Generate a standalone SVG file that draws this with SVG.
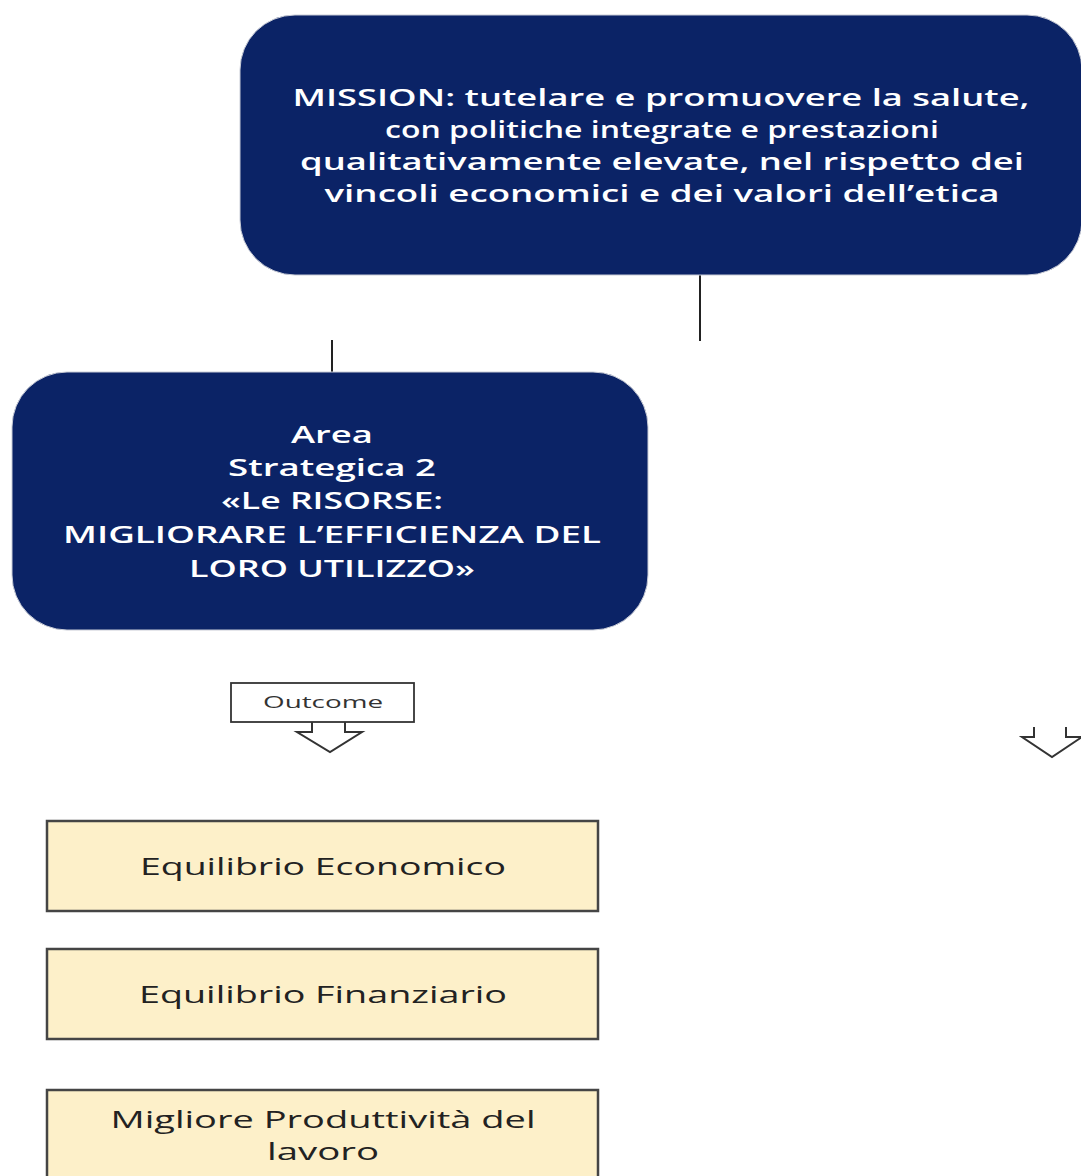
<svg xmlns="http://www.w3.org/2000/svg" width="1081" height="1176" viewBox="0 0 1081 1176">
<style>
text{font-variant-ligatures:none;font-feature-settings:"liga" 0,"clig" 0,"calt" 0,"dlig" 0}
.navy{fill:#0b2366;stroke:#c9ccd6;stroke-width:1}
.wt{fill:#ffffff;font-family:"Open Sans",Lato,sans-serif;font-size:23px;font-weight:600;text-anchor:middle}
.wa{fill:#ffffff;font-family:"Open Sans",Lato,sans-serif;font-size:24px;font-weight:600;text-anchor:middle}
.yel{fill:#fdf0c9;stroke:#454545;stroke-width:2.5}
.bt{fill:#222;font-family:"Open Sans",Lato,sans-serif;font-size:23px;text-anchor:middle}
.ln{stroke:#222;stroke-width:2;fill:none}
.arr{fill:#fff;stroke:#333;stroke-width:2}
</style>
<rect width="1081" height="1176" fill="#ffffff"/>
<g id="connectors">
<line class="ln" x1="700" y1="275" x2="700" y2="341"/>
<line class="ln" x1="332" y1="340" x2="332" y2="372"/>
<path class="arr" d="M312,722 L312,732 L297,732 L330,752 L362,732 L345,732 L345,722"/>
<path class="arr" d="M1034,727 L1034,737 L1022,737 L1052,757 L1082,737 L1066,737 L1066,727"/>
</g>
<g id="mission">
<rect class="navy" x="240" y="15" width="842" height="260" rx="55"/>
<text class="wt" x="661" y="106" textLength="737" lengthAdjust="spacingAndGlyphs">MISSION: tutelare e promuovere la salute,</text>
<text class="wt" x="662" y="138" textLength="554" lengthAdjust="spacingAndGlyphs">con politiche integrate e prestazioni</text>
<text class="wt" x="662" y="170" textLength="724" lengthAdjust="spacingAndGlyphs">qualitativamente elevate, nel rispetto dei</text>
<text class="wt" x="662" y="202" textLength="675" lengthAdjust="spacingAndGlyphs">vincoli economici e dei valori dell’etica</text>
</g>
<g id="area">
<rect class="navy" x="12" y="372" width="636" height="258" rx="55"/>
<text class="wa" x="332" y="443" textLength="82" lengthAdjust="spacingAndGlyphs">Area</text>
<text class="wa" x="332" y="476" textLength="208" lengthAdjust="spacingAndGlyphs">Strategica 2</text>
<text class="wa" x="332" y="509" textLength="222" lengthAdjust="spacingAndGlyphs">«Le RISORSE:</text>
<text class="wa" x="332" y="543" textLength="538" lengthAdjust="spacingAndGlyphs">MIGLIORARE L’EFFICIENZA DEL</text>
<text class="wa" x="332" y="577" textLength="286" lengthAdjust="spacingAndGlyphs">LORO UTILIZZO»</text>
</g>
<g id="outcome">
<rect x="231" y="683" width="183" height="39" fill="#fff" stroke="#333" stroke-width="1.8"/>
<text x="323" y="708" fill="#333" font-family="'Open Sans',Lato,sans-serif" font-size="16" text-anchor="middle" textLength="120" lengthAdjust="spacingAndGlyphs">Outcome</text>
</g>
<g id="box1">
<rect class="yel" x="47" y="821" width="551" height="90"/>
<text class="bt" x="323" y="875" textLength="366" lengthAdjust="spacingAndGlyphs">Equilibrio Economico</text>
</g>
<g id="box2">
<rect class="yel" x="47" y="949" width="551" height="90"/>
<text class="bt" x="323" y="1003" textLength="368" lengthAdjust="spacingAndGlyphs">Equilibrio Finanziario</text>
</g>
<g id="box3">
<rect class="yel" x="47" y="1090" width="551" height="100"/>
<text class="bt" x="323" y="1128" textLength="425" lengthAdjust="spacingAndGlyphs">Migliore Produttività del</text>
<text class="bt" x="323" y="1160" textLength="112" lengthAdjust="spacingAndGlyphs">lavoro</text>
</g>
</svg>
